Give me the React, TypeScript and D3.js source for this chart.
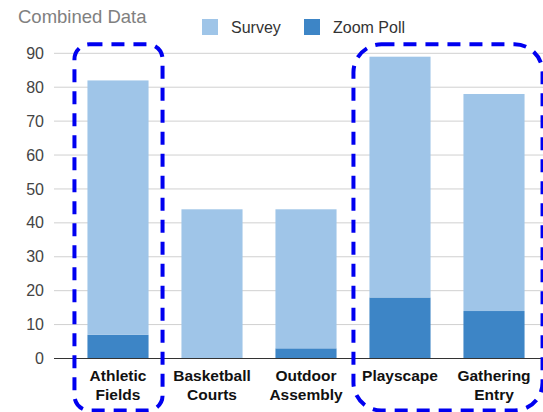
import { useEffect, useRef } from 'react'
import * as d3 from 'd3'

const W = 543, H = 412

const categories = ['Athletic Fields', 'Basketball Courts', 'Outdoor Assembly', 'Playscape', 'Gathering Entry']
const labelLines = [['Athletic', 'Fields'], ['Basketball', 'Courts'], ['Outdoor', 'Assembly'], ['Playscape'], ['Gathering', 'Entry']]
const zoomPoll = [7, 0, 3, 18, 14]
const survey = [75, 44, 41, 71, 64]
const yTicks = [0, 10, 20, 30, 40, 50, 60, 70, 80, 90]
const seriesNames = ['Survey', 'Zoom Poll']
const highlightGroups = [['Athletic Fields'], ['Playscape', 'Gathering Entry']]

const C_SURVEY = '#9fc5e8', C_ZOOM = '#3d85c6'
const FONT = 'Liberation Sans, Arial, sans-serif'

export default function App() {
  const svgRef = useRef<SVGSVGElement>(null)

  useEffect(() => {
    const svg = d3.select(svgRef.current!)
    svg.selectAll('*').remove()

    const x = d3.scaleBand<string>().domain(categories).range([71, 541]).paddingInner(0.35).paddingOuter(0.175)
    const y = d3.scaleLinear().domain([0, 90]).range([358.5, 53.3])

    // gridlines + y labels
    yTicks.forEach(t => {
      svg.append('line').attr('x1', 54).attr('x2', W).attr('y1', y(t)).attr('y2', y(t))
        .attr('stroke', t === 0 ? '#333' : '#d0d0d0').attr('stroke-width', 1)
      svg.append('text').attr('x', 44).attr('y', y(t)).attr('dy', '0.35em')
        .attr('text-anchor', 'end').attr('font-family', FONT).attr('font-size', 16)
        .attr('fill', '#444').text(t)
    })

    // stacked bars: zoom poll at bottom, survey on top
    const rows = categories.map((c, i) => ({ c, zoom: zoomPoll[i], survey: survey[i] }))
    const stack = d3.stack<typeof rows[0]>().keys(['zoom', 'survey'])(rows)
    const colors = [C_ZOOM, C_SURVEY]
    stack.forEach((layer, li) => {
      svg.append('g').selectAll('rect').data(layer).join('rect')
        .attr('x', d => x(d.data.c)!)
        .attr('width', x.bandwidth())
        .attr('y', d => y(d[1]))
        .attr('height', d => Math.max(0, y(d[0]) - y(d[1])))
        .attr('fill', colors[li])
    })

    // redraw baseline over bars
    svg.append('line').attr('x1', 54).attr('x2', W).attr('y1', y(0)).attr('y2', y(0))
      .attr('stroke', '#333').attr('stroke-width', 1)

    // x labels
    categories.forEach((c, i) => {
      const t = svg.append('text').attr('x', x(c)! + x.bandwidth() / 2).attr('y', 381)
        .attr('text-anchor', 'middle').attr('font-family', FONT).attr('font-size', 15.5)
        .attr('font-weight', 'bold').attr('fill', '#111')
      labelLines[i].forEach((ln, j) => {
        t.append('tspan').attr('x', x(c)! + x.bandwidth() / 2).attr('dy', j === 0 ? 0 : 19).text(ln)
      })
    })

    // title
    svg.append('text').attr('x', 18).attr('y', 23).attr('font-family', FONT).attr('font-size', 18.5)
      .attr('fill', '#808080').text('Combined Data')

    // legend
    const legendX = [202, 304]
    seriesNames.forEach((s, i) => {
      svg.append('rect').attr('x', legendX[i]).attr('y', 19).attr('width', 16).attr('height', 16)
        .attr('fill', i === 0 ? C_SURVEY : C_ZOOM)
      svg.append('text').attr('x', legendX[i] + 29).attr('y', 33).attr('font-family', FONT)
        .attr('font-size', 16).attr('fill', '#333').text(s)
    })

    // dashed highlight outlines
    const pads = [{ l: 13, r: 14, rx: 15 }, { l: 16, r: 18, rx: 28 }]
    highlightGroups.forEach((g, i) => {
      const x0 = x(g[0])! - pads[i].l
      const x1 = x(g[g.length - 1])! + x.bandwidth() + pads[i].r
      svg.append('rect').attr('x', x0).attr('y', y(90) - 9)
        .attr('width', x1 - x0).attr('height', y(0) + 52 - (y(90) - 9))
        .attr('rx', pads[i].rx).attr('ry', pads[i].rx)
        .attr('fill', 'none').attr('stroke', '#0000f0').attr('stroke-width', 4)
        .attr('stroke-dasharray', '13 9')
    })
  }, [])

  return (
    <svg ref={svgRef} width={W} height={H} viewBox={`0 0 ${W} ${H}`}
      style={{ position: 'absolute', left: 0, top: 0, background: '#fff' }} />
  )
}
